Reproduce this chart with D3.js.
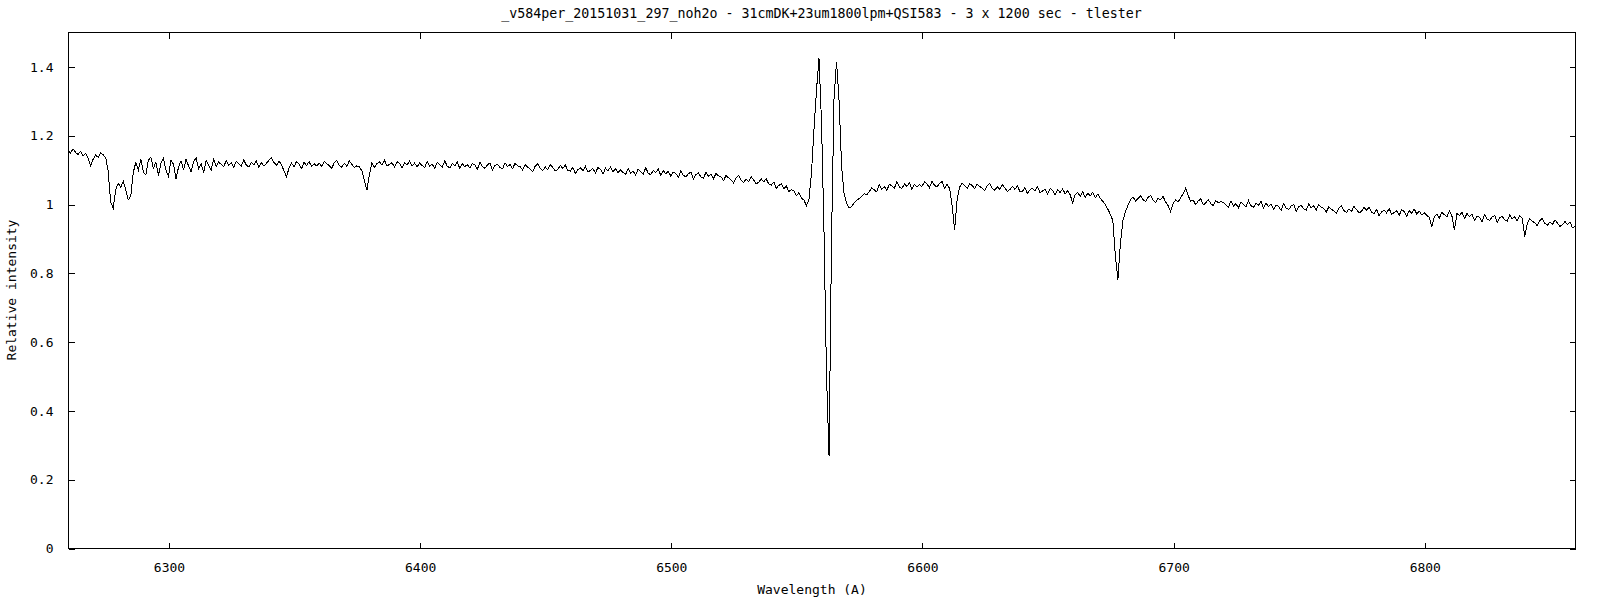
<!DOCTYPE html>
<html>
<head>
<meta charset="utf-8">
<script src="https://cdn.jsdelivr.net/npm/d3@7"></script>
<style>
  html, body { margin: 0; padding: 0; background: #fff; }
  svg { display: block; }
  text { font-family: "DejaVu Sans Mono", "Liberation Mono", monospace; fill: #000; }
</style>
</head>
<body>
<svg id="chart" width="1600" height="600"></svg>
<script>
const chartTitle = "_v584per_20151031_297_noh2o - 31cmDK+23um1800lpm+QSI583 - 3 x 1200 sec - tlester";
const xLabel = "Wavelength (A)";
const yLabel = "Relative intensity";
const xDomain = [6260, 6860];
const yDomain = [0, 1.5];
const xTicks = [6300, 6400, 6500, 6600, 6700, 6800];
const yTicks = [0, 0.2, 0.4, 0.6, 0.8, 1, 1.2, 1.4];
const startWavelength = 6260;
const stepWavelength = 1;
const intensity = [
1.156,1.148,1.160,1.150,1.144,1.153,1.139,1.147,1.133,1.112,1.130,1.142,1.136,1.149,1.143,1.135,1.095,1.005,0.988,1.042,
1.060,1.048,1.066,1.041,1.012,1.024,1.092,1.121,1.098,1.131,1.093,1.084,1.127,1.136,1.104,1.122,1.083,1.119,1.134,1.098,
1.080,1.128,1.115,1.074,1.107,1.126,1.098,1.131,1.110,1.094,1.122,1.135,1.102,1.118,1.091,1.127,1.112,1.099,1.130,1.108,
1.122,1.115,1.109,1.126,1.112,1.119,1.107,1.124,1.117,1.110,1.128,1.113,1.108,1.121,1.114,1.125,1.106,1.120,1.111,1.118,
1.127,1.134,1.121,1.112,1.125,1.114,1.096,1.080,1.104,1.119,1.108,1.124,1.116,1.103,1.121,1.112,1.123,1.109,1.117,1.111,
1.119,1.109,1.124,1.117,1.112,1.104,1.120,1.127,1.113,1.107,1.118,1.110,1.125,1.116,1.106,1.111,1.108,1.097,1.068,1.040,
1.085,1.120,1.106,1.117,1.122,1.114,1.127,1.110,1.115,1.120,1.107,1.123,1.118,1.104,1.121,1.113,1.125,1.111,1.119,1.108,
1.119,1.112,1.106,1.123,1.109,1.116,1.104,1.121,1.114,1.107,1.125,1.110,1.105,1.118,1.111,1.122,1.103,1.117,1.108,1.115,
1.105,1.117,1.113,1.101,1.121,1.108,1.104,1.114,1.119,1.099,1.112,1.116,1.106,1.102,1.120,1.109,1.115,1.103,1.118,1.111,
1.109,1.099,1.114,1.107,1.102,1.094,1.110,1.117,1.103,1.097,1.108,1.100,1.115,1.106,1.096,1.101,1.112,1.104,1.113,1.098,
1.096,1.107,1.089,1.100,1.105,1.097,1.110,1.093,1.098,1.103,1.090,1.106,1.101,1.087,1.104,1.096,1.108,1.094,1.102,1.091,
1.099,1.092,1.086,1.103,1.089,1.096,1.084,1.101,1.094,1.087,1.105,1.090,1.085,1.098,1.091,1.102,1.083,1.097,1.088,1.095,
1.081,1.093,1.089,1.077,1.096,1.083,1.079,1.088,1.093,1.073,1.086,1.090,1.079,1.075,1.092,1.081,1.086,1.074,1.089,1.082,
1.079,1.068,1.083,1.076,1.070,1.061,1.077,1.083,1.069,1.063,1.073,1.065,1.079,1.070,1.059,1.063,1.073,1.065,1.073,1.058,
1.055,1.064,1.046,1.054,1.059,1.045,1.052,1.036,1.042,1.038,1.024,1.033,1.017,1.012,0.995,1.012,1.090,1.215,1.330,1.424,
1.240,0.920,0.500,0.268,0.900,1.310,1.414,1.300,1.110,1.030,1.002,0.988,0.992,1.004,1.011,1.016,1.022,1.030,1.027,1.036,
1.047,1.041,1.035,1.056,1.043,1.051,1.039,1.058,1.052,1.046,1.064,1.050,1.045,1.058,1.051,1.062,1.043,1.057,1.049,1.056,
1.051,1.064,1.059,1.047,1.067,1.054,1.050,1.060,1.065,1.046,1.058,1.045,0.995,0.925,1.012,1.049,1.061,1.054,1.046,1.058,
1.054,1.044,1.058,1.051,1.046,1.038,1.054,1.060,1.046,1.040,1.050,1.042,1.056,1.047,1.037,1.042,1.051,1.043,1.052,1.037,
1.037,1.048,1.030,1.041,1.046,1.038,1.050,1.033,1.038,1.042,1.029,1.045,1.040,1.026,1.042,1.033,1.044,1.030,1.038,1.027,
1.003,1.028,1.033,1.022,1.036,1.019,1.031,1.024,1.034,1.018,1.029,1.016,1.008,0.998,0.985,0.970,0.952,0.850,0.780,0.885,
0.952,0.978,0.996,1.012,1.021,1.009,1.016,1.024,1.013,1.007,1.019,1.025,1.011,1.004,1.017,1.012,1.022,1.006,0.995,0.978,
1.002,1.012,1.006,1.018,1.030,1.046,1.024,1.008,1.011,0.998,1.009,1.015,0.997,1.004,1.013,1.001,0.995,1.010,1.003,1.007,
1.004,0.997,0.991,1.008,0.994,1.001,0.989,1.006,0.999,0.992,1.010,0.995,0.990,1.003,0.996,1.007,0.988,1.002,0.993,1.000,
0.985,0.997,0.993,0.981,1.001,0.988,0.984,0.994,0.999,0.979,0.992,0.996,0.986,0.982,1.000,0.989,0.995,0.983,0.998,0.991,
0.987,0.977,0.992,0.985,0.980,0.972,0.988,0.995,0.981,0.975,0.986,0.978,0.993,0.984,0.974,0.979,0.990,0.982,0.991,0.976,
0.973,0.984,0.966,0.977,0.982,0.974,0.987,0.970,0.975,0.980,0.967,0.983,0.978,0.964,0.981,0.973,0.985,0.971,0.979,0.968,
0.974,0.967,0.961,0.934,0.964,0.971,0.959,0.976,0.969,0.962,0.980,0.965,0.924,0.973,0.966,0.977,0.958,0.972,0.963,0.970,
0.953,0.965,0.961,0.949,0.969,0.956,0.952,0.962,0.967,0.947,0.960,0.964,0.954,0.950,0.968,0.957,0.963,0.951,0.966,0.959,
0.905,0.944,0.957,0.950,0.945,0.937,0.952,0.958,0.944,0.938,0.948,0.940,0.954,0.945,0.935,0.940,0.949,0.941,0.948,0.931,0.935
];

const margin = { left: 68, right: 25, top: 32, bottom: 52 };
const W = 1600, H = 600;
const svg = d3.select("#chart");
const x = d3.scaleLinear().domain(xDomain).range([margin.left, W - margin.right]);
const y = d3.scaleLinear().domain(yDomain).range([H - margin.bottom, margin.top]);
const data = intensity.map((v, i) => ({ w: startWavelength + i * stepWavelength, v }));

svg.append("rect")
  .attr("x", x.range()[0] + 0.5).attr("y", y.range()[1] + 0.5)
  .attr("width", x.range()[1] - x.range()[0]).attr("height", y.range()[0] - y.range()[1])
  .attr("fill", "none").attr("stroke", "#000").attr("stroke-width", 1)
  .attr("shape-rendering", "crispEdges");

const tickLen = 6;
const fontSize = "13px";

const axBottom = svg.append("g").attr("transform", `translate(0.5,${y.range()[0] + 0.5})`)
  .call(d3.axisBottom(x).tickValues(xTicks).tickSizeInner(-tickLen).tickSizeOuter(0).tickPadding(14).tickFormat(d3.format("d")));
const axTop = svg.append("g").attr("transform", `translate(0.5,${y.range()[1] + 0.5})`)
  .call(d3.axisTop(x).tickValues(xTicks).tickSizeInner(-tickLen).tickSizeOuter(0).tickFormat(""));
const axLeft = svg.append("g").attr("transform", `translate(${x.range()[0] + 0.5},0.5)`)
  .call(d3.axisLeft(y).tickValues(yTicks).tickSizeInner(-tickLen).tickSizeOuter(0).tickPadding(15).tickFormat(d => String(+d.toFixed(1))));
const axRight = svg.append("g").attr("transform", `translate(${x.range()[1] + 0.5},0.5)`)
  .call(d3.axisRight(y).tickValues(yTicks).tickSizeInner(-tickLen).tickSizeOuter(0).tickFormat(""));

[axBottom, axTop, axLeft, axRight].forEach(g => {
  g.select(".domain").remove();
  g.selectAll(".tick line").attr("stroke", "#000").attr("shape-rendering", "crispEdges");
  g.selectAll(".tick text").attr("font-size", fontSize)
    .attr("font-family", '"DejaVu Sans Mono", monospace').attr("fill", "#000");
});

const line = d3.line().x(d => x(d.w)).y(d => y(d.v));
svg.append("path").datum(data)
  .attr("d", line).attr("fill", "none").attr("stroke", "#000").attr("stroke-width", 1)
  .attr("shape-rendering", "crispEdges");

svg.append("text").attr("x", (x.range()[0] + x.range()[1]) / 2).attr("y", 18)
  .attr("text-anchor", "middle").attr("font-size", "13.3px").text(chartTitle);
svg.append("text").attr("x", 812).attr("y", 594)
  .attr("text-anchor", "middle").attr("font-size", "13px").text(xLabel);
svg.append("text").attr("transform", `translate(16,${(y.range()[0] + y.range()[1]) / 2}) rotate(-90)`)
  .attr("text-anchor", "middle").attr("font-size", "13px").text(yLabel);
</script>
</body>
</html>
